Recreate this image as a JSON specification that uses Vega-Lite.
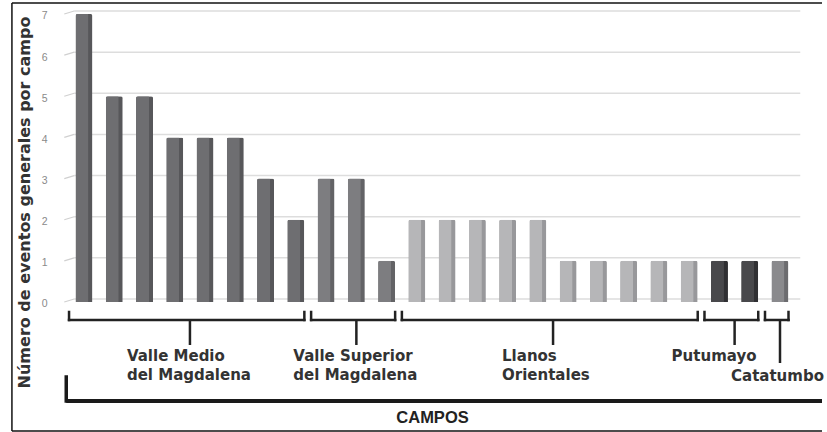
{
  "$schema": "https://vega.github.io/schema/vega-lite/v6.json",
  "width": 827,
  "height": 432,
  "autosize": "none",
  "padding": 0,
  "background": "white",
  "config": {"view": {"stroke": null}, "font": "DejaVu Sans"},
  "datasets": {
    "campos": [
      {"pos": 0, "eventos": 7, "grupo": "Valle Medio\ndel Magdalena"},
      {"pos": 1, "eventos": 5, "grupo": "Valle Medio\ndel Magdalena"},
      {"pos": 2, "eventos": 5, "grupo": "Valle Medio\ndel Magdalena"},
      {"pos": 3, "eventos": 4, "grupo": "Valle Medio\ndel Magdalena"},
      {"pos": 4, "eventos": 4, "grupo": "Valle Medio\ndel Magdalena"},
      {"pos": 5, "eventos": 4, "grupo": "Valle Medio\ndel Magdalena"},
      {"pos": 6, "eventos": 3, "grupo": "Valle Medio\ndel Magdalena"},
      {"pos": 7, "eventos": 2, "grupo": "Valle Medio\ndel Magdalena"},
      {"pos": 8, "eventos": 3, "grupo": "Valle Superior\ndel Magdalena"},
      {"pos": 9, "eventos": 3, "grupo": "Valle Superior\ndel Magdalena"},
      {"pos": 10, "eventos": 1, "grupo": "Valle Superior\ndel Magdalena"},
      {"pos": 11, "eventos": 2, "grupo": "Llanos\nOrientales"},
      {"pos": 12, "eventos": 2, "grupo": "Llanos\nOrientales"},
      {"pos": 13, "eventos": 2, "grupo": "Llanos\nOrientales"},
      {"pos": 14, "eventos": 2, "grupo": "Llanos\nOrientales"},
      {"pos": 15, "eventos": 2, "grupo": "Llanos\nOrientales"},
      {"pos": 16, "eventos": 1, "grupo": "Llanos\nOrientales"},
      {"pos": 17, "eventos": 1, "grupo": "Llanos\nOrientales"},
      {"pos": 18, "eventos": 1, "grupo": "Llanos\nOrientales"},
      {"pos": 19, "eventos": 1, "grupo": "Llanos\nOrientales"},
      {"pos": 20, "eventos": 1, "grupo": "Llanos\nOrientales"},
      {"pos": 21, "eventos": 1, "grupo": "Putumayo"},
      {"pos": 22, "eventos": 1, "grupo": "Putumayo"},
      {"pos": 23, "eventos": 1, "grupo": "Catatumbo"}
    ],
    "niveles": [
      {"nivel": 0}, {"nivel": 1}, {"nivel": 2}, {"nivel": 3},
      {"nivel": 4}, {"nivel": 5}, {"nivel": 6}, {"nivel": 7}
    ],
    "marco": [{"pieza": "marco"}]
  },
  "layer": [
    {
      "data": {"name": "niveles"},
      "mark": {"type": "rule", "color": "#dddddd", "strokeWidth": 1.5, "yOffset": -3},
      "encoding": {
        "x": {"datum": -0.326, "type": "quantitative"},
        "x2": {"datum": 23.67},
        "y": {"field": "nivel", "type": "quantitative"}
      }
    },
    {
      "data": {"name": "niveles"},
      "mark": {"type": "rule", "color": "#d0d0d0", "strokeWidth": 1.2, "y2Offset": -3},
      "encoding": {
        "x": {"datum": -0.653, "type": "quantitative"},
        "x2": {"datum": -0.326},
        "y": {"field": "nivel", "type": "quantitative"},
        "y2": {"field": "nivel"}
      }
    },
    {
      "data": {"name": "campos"},
      "mark": {"type": "bar", "size": 17, "cornerRadiusTopLeft": 2, "cornerRadiusTopRight": 2},
      "encoding": {
        "x": {
          "field": "pos", "type": "quantitative",
          "scale": {"domain": [-2.612, 24.388], "nice": false, "zero": false},
          "axis": {
            "title": "CAMPOS", "labels": false, "ticks": false, "domain": false, "grid": false,
            "titleFont": "Liberation Sans", "titleFontSize": 16.5, "titleFontWeight": "bold",
            "titleColor": "#222222", "titleX": 432, "titleY": -15, "titleBaseline": "middle", "titleAlign": "center"
          }
        },
        "y": {
          "field": "eventos", "type": "quantitative",
          "scale": {"domain": [-3.16, 7.34], "nice": false, "zero": false},
          "axis": {
            "values": [0, 1, 2, 3, 4, 5, 6, 7],
            "title": "Número de eventos generales por campo",
            "offset": -60, "domain": false, "ticks": false, "grid": false,
            "labelPadding": 13, "labelColor": "#8a8a8a", "labelFontSize": 10.5, "labelFont": "Liberation Sans",
            "labelOffset": 2,
            "titleFont": "DejaVu Sans", "titleFontSize": 16, "titleFontWeight": "bold", "titleColor": "#333333",
            "titleX": -36, "titleY": 202, "titleAngle": -90, "titleBaseline": "middle", "titleAlign": "center"
          }
        },
        "color": {
          "field": "grupo", "type": "nominal", "legend": null,
          "scale": {
            "domain": ["Valle Medio\ndel Magdalena", "Valle Superior\ndel Magdalena", "Llanos\nOrientales", "Putumayo", "Catatumbo"],
            "range": ["#57575a", "#636366", "#98989b", "#303033", "#6c6c6f"]
          }
        }
      }
    },
    {
      "data": {"name": "campos"},
      "mark": {"type": "bar", "size": 13, "xOffset": -2, "cornerRadiusTopLeft": 2, "cornerRadiusTopRight": 1},
      "encoding": {
        "x": {"field": "pos", "type": "quantitative"},
        "y": {"field": "eventos", "type": "quantitative"},
        "color": {
          "field": "grupo", "type": "nominal", "legend": null,
          "scale": {
            "domain": ["Valle Medio\ndel Magdalena", "Valle Superior\ndel Magdalena", "Llanos\nOrientales", "Putumayo", "Catatumbo"],
            "range": ["#6e6e71", "#7d7d80", "#b6b6b8", "#48484b", "#8a8a8d"]
          }
        }
      }
    },
    {
      "data": {"name": "campos"},
      "transform": [{"aggregate": [{"op": "min", "field": "pos", "as": "ini"}, {"op": "max", "field": "pos", "as": "fin"}], "groupby": ["grupo"]}],
      "mark": {"type": "rule", "color": "#222222", "strokeWidth": 2.5, "strokeCap": "square", "xOffset": -15, "x2Offset": 8.5},
      "encoding": {
        "x": {"field": "ini", "type": "quantitative"},
        "x2": {"field": "fin"},
        "y": {"datum": -0.4375, "type": "quantitative"}
      }
    },
    {
      "data": {"name": "campos"},
      "transform": [{"aggregate": [{"op": "min", "field": "pos", "as": "ini"}], "groupby": ["grupo"]}],
      "mark": {"type": "rule", "color": "#222222", "strokeWidth": 2.5, "strokeCap": "square", "xOffset": -15},
      "encoding": {
        "x": {"field": "ini", "type": "quantitative"},
        "y": {"datum": -0.243, "type": "quantitative"},
        "y2": {"datum": -0.4375}
      }
    },
    {
      "data": {"name": "campos"},
      "transform": [{"aggregate": [{"op": "max", "field": "pos", "as": "fin"}], "groupby": ["grupo"]}],
      "mark": {"type": "rule", "color": "#222222", "strokeWidth": 2.5, "strokeCap": "square", "xOffset": 8.5},
      "encoding": {
        "x": {"field": "fin", "type": "quantitative"},
        "y": {"datum": -0.243, "type": "quantitative"},
        "y2": {"datum": -0.4375}
      }
    },
    {
      "data": {"name": "campos"},
      "transform": [
        {"aggregate": [{"op": "mean", "field": "pos", "as": "medio"}], "groupby": ["grupo"]},
        {"filter": "datum.grupo != 'Catatumbo'"}
      ],
      "mark": {"type": "rule", "color": "#222222", "strokeWidth": 2.5},
      "encoding": {
        "x": {"field": "medio", "type": "quantitative"},
        "y": {"datum": -0.4375, "type": "quantitative"},
        "y2": {"datum": -1.045}
      }
    },
    {
      "data": {"name": "campos"},
      "transform": [
        {"aggregate": [{"op": "mean", "field": "pos", "as": "medio"}], "groupby": ["grupo"]},
        {"filter": "datum.grupo == 'Catatumbo'"}
      ],
      "mark": {"type": "rule", "color": "#222222", "strokeWidth": 2.5},
      "encoding": {
        "x": {"field": "medio", "type": "quantitative"},
        "y": {"datum": -0.4375, "type": "quantitative"},
        "y2": {"datum": -1.483}
      }
    },
    {
      "data": {"name": "campos"},
      "transform": [
        {"aggregate": [{"op": "mean", "field": "pos", "as": "medio"}], "groupby": ["grupo"]},
        {"filter": {"field": "grupo", "oneOf": ["Valle Medio\ndel Magdalena", "Valle Superior\ndel Magdalena", "Putumayo"]}}
      ],
      "mark": {"type": "text", "align": "left", "baseline": "top", "xOffset": -63, "lineBreak": "\n", "lineHeight": 18.5, "font": "DejaVu Sans", "fontWeight": "bold", "fontSize": 15, "color": "#333333"},
      "encoding": {
        "x": {"field": "medio", "type": "quantitative"},
        "y": {"datum": -1.154, "type": "quantitative"},
        "text": {"field": "grupo"}
      }
    },
    {
      "data": {"name": "campos"},
      "transform": [
        {"aggregate": [{"op": "mean", "field": "pos", "as": "medio"}], "groupby": ["grupo"]},
        {"filter": {"field": "grupo", "equal": "Llanos\nOrientales"}}
      ],
      "mark": {"type": "text", "align": "left", "baseline": "top", "xOffset": -51, "lineBreak": "\n", "lineHeight": 18.5, "font": "DejaVu Sans", "fontWeight": "bold", "fontSize": 15, "color": "#333333"},
      "encoding": {
        "x": {"field": "medio", "type": "quantitative"},
        "y": {"datum": -1.154, "type": "quantitative"},
        "text": {"field": "grupo"}
      }
    },
    {
      "data": {"name": "campos"},
      "transform": [
        {"aggregate": [{"op": "mean", "field": "pos", "as": "medio"}], "groupby": ["grupo"]},
        {"filter": {"field": "grupo", "equal": "Catatumbo"}}
      ],
      "mark": {"type": "text", "align": "left", "baseline": "top", "xOffset": -49, "font": "DejaVu Sans", "fontWeight": "bold", "fontSize": 15, "color": "#333333"},
      "encoding": {
        "x": {"field": "medio", "type": "quantitative"},
        "y": {"datum": -1.617, "type": "quantitative"},
        "text": {"field": "grupo"}
      }
    },
    {
      "data": {"name": "marco"},
      "mark": {"type": "rule", "color": "#1a1a1a", "strokeWidth": 3.5, "strokeCap": "square"},
      "encoding": {
        "x": {"datum": -0.588, "type": "quantitative"},
        "y": {"datum": -1.823, "type": "quantitative"},
        "y2": {"datum": -2.406}
      }
    },
    {
      "data": {"name": "marco"},
      "mark": {"type": "rule", "color": "#1a1a1a", "strokeWidth": 4},
      "encoding": {
        "x": {"datum": -0.588, "type": "quantitative"},
        "x2": {"datum": 24.388},
        "y": {"datum": -2.406, "type": "quantitative"}
      }
    },
    {
      "data": {"name": "marco"},
      "mark": {"type": "rule", "color": "#111111", "strokeWidth": 1.5},
      "encoding": {
        "x": {"datum": -2.383, "type": "quantitative"},
        "y": {"datum": 7.268, "type": "quantitative"},
        "y2": {"datum": -3.136}
      }
    },
    {
      "data": {"name": "marco"},
      "mark": {"type": "rule", "color": "#111111", "strokeWidth": 1.5},
      "encoding": {
        "x": {"datum": -2.383, "type": "quantitative"},
        "x2": {"datum": 24.388},
        "y": {"datum": 7.268, "type": "quantitative"}
      }
    },
    {
      "data": {"name": "marco"},
      "mark": {"type": "rule", "color": "#111111", "strokeWidth": 1.5},
      "encoding": {
        "x": {"datum": -2.383, "type": "quantitative"},
        "x2": {"datum": 24.388},
        "y": {"datum": -3.136, "type": "quantitative"}
      }
    }
  ],
  "resolve": {"scale": {"color": "independent"}}
}
